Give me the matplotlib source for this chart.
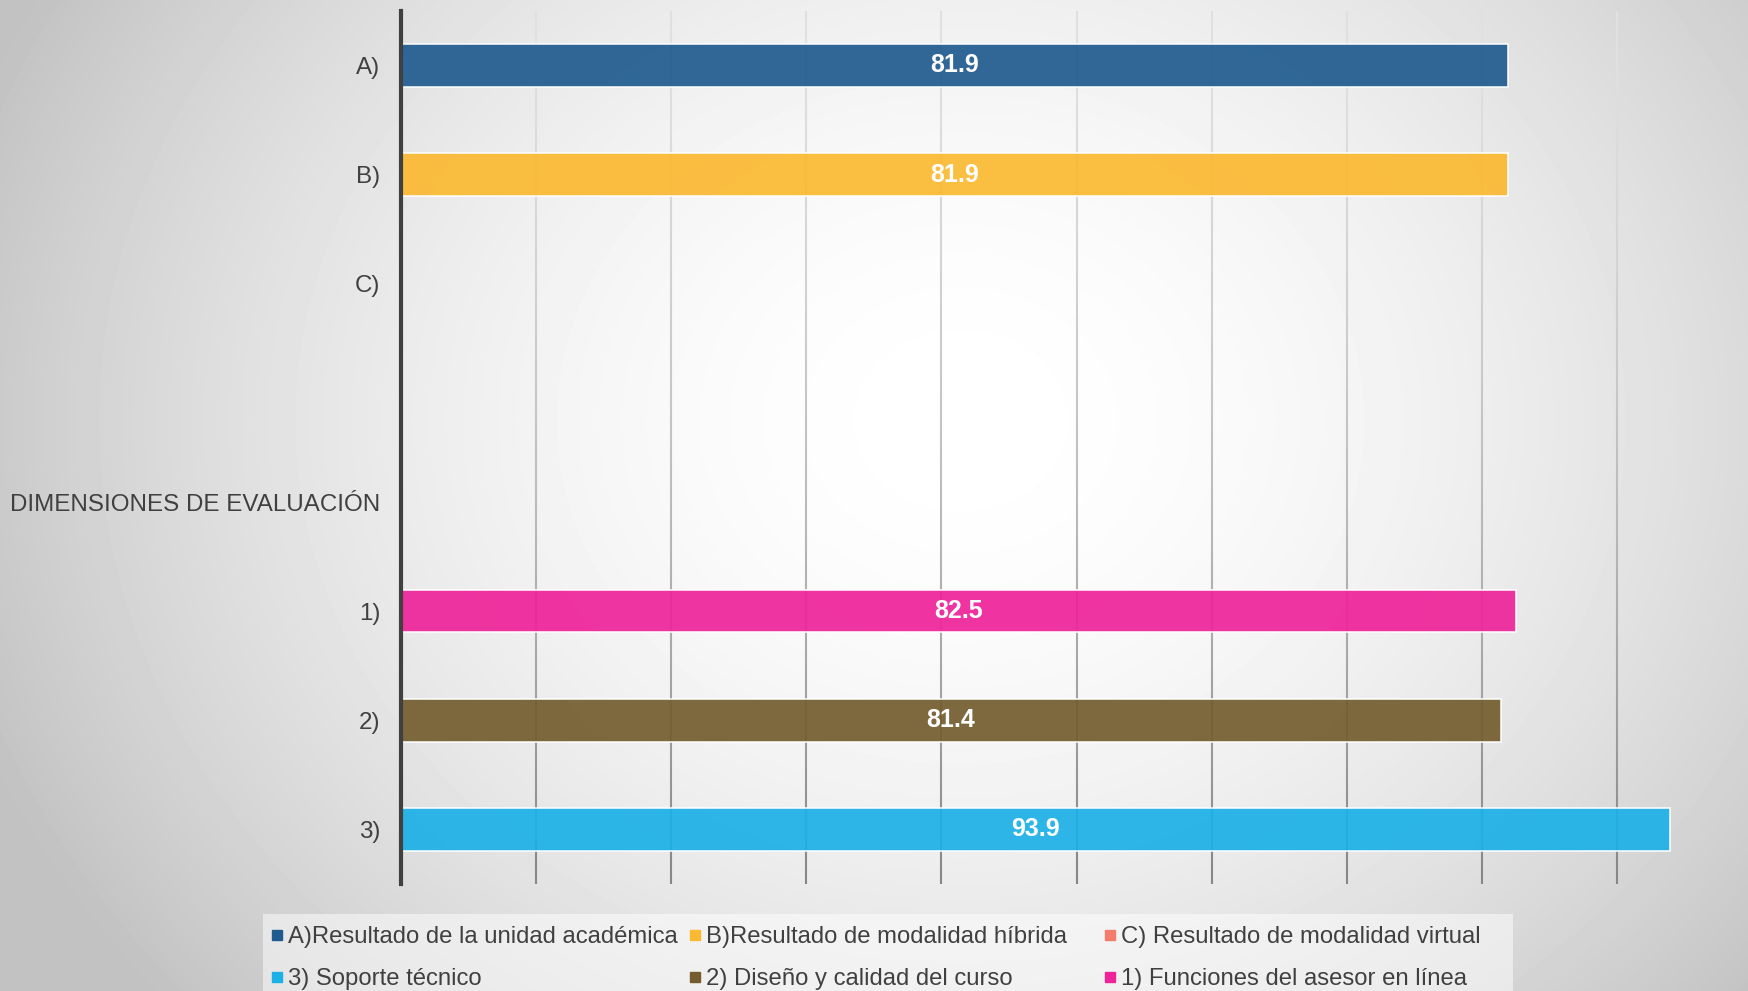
import numpy as np
import matplotlib
matplotlib.use("Agg")
import matplotlib.pyplot as plt
from matplotlib.lines import Line2D
from matplotlib.collections import LineCollection
from matplotlib import font_manager

# Data
categories = ["A)", "B)", "C)", "", "DIMENSIONES DE EVALUACIÓN", "1)", "2)", "3)"]
values = [81.9, 81.9, None, None, None, 82.5, 81.4, 93.9]
bar_colors = ["#1f5b8f", "#fbb931", "#f47c6b", None, None, "#ee2399", "#745c2e", "#1bb0e6"]
legend_labels = ["A)Resultado de la unidad académica", "B)Resultado de modalidad híbrida",
                 "C) Resultado de modalidad virtual", "3) Soporte técnico",
                 "2) Diseño y calidad del curso", "1) Funciones del asesor en línea"]
legend_colors = ["#1f5b8f", "#fbb931", "#f47c6b", "#1bb0e6", "#745c2e", "#ee2399"]
x_ticks = np.arange(10, 100, 10)

names = {f.name for f in font_manager.fontManager.ttflist}
legend_font = "Liberation Sans Narrow" if "Liberation Sans Narrow" in names else "Liberation Sans"
plt.rcParams['font.family'] = ['Liberation Sans', 'DejaVu Sans']

fig = plt.figure(figsize=(17.48, 9.91), dpi=100)

# radial gradient background
bg = fig.add_axes([0, 0, 1, 1], zorder=-10)
yy, xx = np.mgrid[0:991, 0:1748]
r = np.sqrt(((xx - 960) / 1.0) ** 2 + ((yy - 420) / 0.85) ** 2)
shade = 1.0 - 0.24 * np.clip(r / 1050, 0, 1) ** 1.8
bg.imshow(shade, cmap="gray", vmin=0, vmax=1, aspect="auto", interpolation="bilinear")
bg.axis("off")

ax = fig.add_axes([0.2294, 0.108, 0.773, 0.881])
ax.set_facecolor("none")
ypos = np.arange(len(categories))
ax.set_xlim(0, 100)
ax.set_ylim(len(categories) - 0.5, -0.5)

# gridlines, lighter at the top and darker at the bottom
nseg = 60
edges = np.linspace(-0.5, len(categories) - 0.5, nseg + 1)
segs, cols = [], []
for xt in x_ticks:
    for k in range(nseg):
        segs.append([(xt, edges[k]), (xt, edges[k + 1])])
        g = 0.88 - 0.36 * (k / nseg) ** 1.5
        cols.append((g, g, g))
ax.add_collection(LineCollection(segs, colors=cols, linewidths=1.5, zorder=1))

for y, v, c in zip(ypos, values, bar_colors):
    if v is None:
        continue
    ax.barh(y, v, height=0.39, color=c, alpha=0.92, edgecolor=(1, 1, 1, 0.55),
            linewidth=1.2, zorder=3)
    ax.text(v / 2, y, f"{v:.1f}", ha="center", va="center", color="white",
            fontsize=18, fontweight="bold", zorder=4)

ax.set_xticks([])
ax.set_yticks(ypos)
ax.set_yticklabels(categories, fontsize=17.4, color="#404040")
ax.tick_params(axis="both", length=0)
ax.tick_params(axis="y", pad=15)
for s in ["top", "right", "bottom"]:
    ax.spines[s].set_visible(False)
ax.spines["left"].set_color("#404040")
ax.spines["left"].set_linewidth(3)
ax.spines["left"].set_zorder(5)

# legend background box
fig.patches.append(plt.Rectangle((263 / 1748, 0), (1513 - 263) / 1748, 77 / 991,
                                 transform=fig.transFigure, facecolor="white",
                                 alpha=0.5, edgecolor="none", zorder=-5))

# legend in three fixed-width columns
col_x = [258, 676, 1091]
for i, x0 in enumerate(col_x):
    handles = [Line2D([], [], marker="s", linestyle="none", markersize=6.5,
                      color=legend_colors[i + 3 * k]) for k in range(2)]
    labels = [legend_labels[i + 3 * k] for k in range(2)]
    fig.legend(handles, labels, loc="upper left", bbox_to_anchor=(x0 / 1748, 1 - 914 / 991),
               frameon=False, handlelength=0.6, handletextpad=0.15, labelspacing=0.85,
               borderpad=0, prop={"family": legend_font, "size": 17.2}, labelcolor="#404040")

fig.savefig("out.png", dpi=100)
